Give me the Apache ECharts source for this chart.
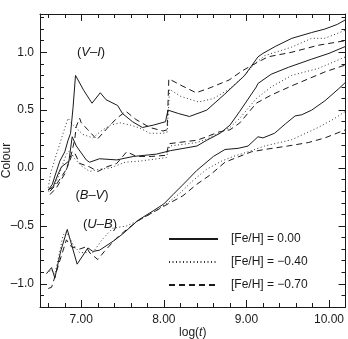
<!DOCTYPE html>
<html>
<head>
<meta charset="utf-8">
<script src="https://cdn.jsdelivr.net/npm/echarts@6/dist/echarts.min.js"></script>
<style>
html,body{margin:0;padding:0;background:#fff;}
#c{width:348px;height:339px;}
</style>
</head>
<body>
<div id="c"></div>
<script>
// ---- tick labels ----
const xMajorTicks = [7, 8, 9, 10];
const xMinorTicks = [6.6, 6.8, 7.2, 7.4, 7.6, 7.8, 8.2, 8.4, 8.6, 8.8, 9.2, 9.4, 9.6, 9.8];
const yMajorTicks = [-1, -0.5, 0, 0.5, 1];
const yMinorTicks = [-1.1, -0.9, -0.8, -0.7, -0.6, -0.4, -0.3, -0.2, -0.1, 0.1, 0.2, 0.3, 0.4, 0.6, 0.7, 0.8, 0.9, 1.1, 1.2, 1.3];

// ---- metallicity labels ----
const metallicities = ['[Fe/H] = 0.00', '[Fe/H] = \u22120.40', '[Fe/H] = \u22120.70'];

// ---- (V-I) curves : [log(t), colour] ----
const viSolid = [[6.60,-0.19],[6.65,-0.14],[6.68,-0.07],[6.74,0.06],[6.80,0.14],[6.84,0.24],[6.87,0.30],[6.90,0.52],[6.93,0.80],[7.03,0.67],[7.13,0.56],[7.23,0.65],[7.30,0.59],[7.44,0.54],[7.50,0.47],[7.62,0.40],[7.74,0.35],[7.87,0.37],[8.02,0.40],[8.05,0.50],[8.18,0.47],[8.31,0.445],[8.52,0.50],[8.74,0.64],[8.98,0.80],[9.14,0.96],[9.20,0.99],[9.35,1.05],[9.55,1.12],[9.79,1.17],[9.95,1.20],[10.10,1.24],[10.20,1.28]];
const viDot = [[6.60,-0.17],[6.63,-0.04],[6.70,0.12],[6.78,0.30],[6.84,0.43],[6.90,0.37],[7.02,0.29],[7.14,0.26],[7.24,0.32],[7.35,0.37],[7.47,0.39],[7.60,0.37],[7.71,0.345],[7.83,0.30],[7.99,0.30],[8.04,0.31],[8.07,0.68],[8.20,0.62],[8.42,0.57],[8.60,0.60],[8.79,0.68],[8.95,0.78],[9.10,0.90],[9.22,0.97],[9.40,1.01],[9.55,1.045],[9.79,1.12],[9.95,1.12],[10.20,1.19]];
const viDash = [[6.62,-0.20],[6.70,-0.14],[6.82,-0.01],[6.88,0.12],[6.92,0.245],[6.94,0.36],[6.98,0.43],[7.00,0.39],[7.08,0.33],[7.19,0.245],[7.31,0.34],[7.43,0.43],[7.54,0.49],[7.66,0.42],[7.83,0.35],[7.99,0.32],[8.04,0.33],[8.06,0.77],[8.22,0.71],[8.39,0.65],[8.55,0.69],[8.79,0.76],[8.95,0.84],[9.10,0.90],[9.26,0.96],[9.55,1.00],[9.87,1.06],[10.20,1.10]];

// ---- (B-V) curves ----
const bvSolid = [[6.60,-0.19],[6.66,-0.16],[6.72,-0.05],[6.76,0.01],[6.85,0.06],[6.89,0.27],[6.94,0.19],[7.06,0.07],[7.10,0.05],[7.22,0.08],[7.43,0.07],[7.63,0.10],[7.91,0.12],[8.08,0.15],[8.40,0.19],[8.52,0.24],[8.68,0.30],[8.80,0.37],[8.92,0.49],[9.12,0.70],[9.14,0.73],[9.30,0.81],[9.51,0.87],[9.79,0.94],[10.00,0.99],[10.20,1.05]];
const bvDot = [[6.60,-0.20],[6.68,-0.15],[6.74,-0.04],[6.82,0.12],[6.86,0.15],[6.92,0.08],[7.00,0.02],[7.10,-0.03],[7.22,-0.01],[7.35,0.00],[7.53,0.05],[7.71,0.06],[8.03,0.09],[8.07,0.19],[8.40,0.22],[8.52,0.25],[8.66,0.30],[8.80,0.35],[8.92,0.43],[9.12,0.60],[9.30,0.70],[9.55,0.80],[9.87,0.86],[10.20,0.96]];
const bvDash = [[6.62,-0.23],[6.70,-0.17],[6.80,-0.05],[6.88,0.10],[6.92,0.13],[6.98,0.04],[7.10,0.01],[7.20,-0.03],[7.31,0.01],[7.43,0.04],[7.55,0.14],[7.67,0.10],[7.85,0.10],[8.03,0.11],[8.06,0.21],[8.40,0.24],[8.52,0.27],[8.66,0.31],[8.80,0.33],[8.92,0.39],[9.12,0.56],[9.30,0.63],[9.55,0.71],[9.95,0.83],[10.20,0.89]];

// ---- (U-B) curves ----
const ubSolid = [[6.58,-0.91],[6.64,-0.86],[6.68,-0.95],[6.75,-0.72],[6.83,-0.53],[6.95,-0.83],[7.08,-0.69],[7.14,-0.72],[7.22,-0.71],[7.39,-0.63],[7.50,-0.57],[7.69,-0.45],[7.87,-0.37],[8.00,-0.31],[8.11,-0.23],[8.25,-0.13],[8.40,-0.02],[8.60,0.10],[8.74,0.16],[8.90,0.17],[9.02,0.19],[9.14,0.27],[9.20,0.26],[9.34,0.30],[9.47,0.38],[9.59,0.45],[9.67,0.46],[9.79,0.50],[9.95,0.58],[10.11,0.68],[10.20,0.74]];
const ubDot = [[6.58,-0.91],[6.64,-0.88],[6.68,-0.92],[6.78,-0.58],[6.82,-0.55],[6.90,-0.66],[6.98,-0.73],[7.14,-0.73],[7.25,-0.62],[7.38,-0.52],[7.55,-0.50],[7.70,-0.45],[7.90,-0.37],[8.05,-0.30],[8.19,-0.22],[8.35,-0.11],[8.52,-0.01],[8.70,0.06],[8.84,0.10],[9.02,0.14],[9.22,0.19],[9.55,0.245],[9.87,0.35],[10.05,0.42],[10.20,0.49]];
const ubDash = [[6.60,-1.04],[6.64,-1.03],[6.68,-0.94],[6.74,-0.80],[6.82,-0.62],[6.88,-0.68],[6.98,-0.70],[7.06,-0.68],[7.10,-0.73],[7.20,-0.79],[7.28,-0.72],[7.42,-0.61],[7.55,-0.53],[7.70,-0.45],[7.90,-0.37],[8.05,-0.31],[8.23,-0.24],[8.40,-0.14],[8.56,-0.06],[8.74,0.05],[8.88,0.09],[9.06,0.14],[9.22,0.16],[9.50,0.19],[9.75,0.22],[9.95,0.26],[10.20,0.33]];

const FONT = '"Liberation Sans", Arial, Helvetica, sans-serif';
const INK = '#1a1a1a';
const dashTypes = ['solid', [1, 2.5], [6, 4]];
const lineColors = [INK, '#333', INK];

function mk(data, k) {
  return {
    type: 'line', name: metallicities[k], data: data,
    xAxisIndex: 0, yAxisIndex: 0,
    symbol: 'none', showSymbol: false, smooth: false, silent: true, animation: false,
    lineStyle: { color: lineColors[k], width: 1, type: dashTypes[k] },
    itemStyle: { color: lineColors[k] }
  };
}

const xMin = 6.5, xMax = 10.2, yMin = -1.2, yMax = 1.33;

function xAx(pos, ticks, len, main) {
  return {
    type: 'value', position: pos, min: xMin, max: xMax,
    splitLine: { show: false },
    axisLine: { show: main, onZero: false, lineStyle: { color: INK, width: 1 } },
    axisTick: { show: true, inside: true, length: len, customValues: ticks, lineStyle: { color: INK, width: 1 } },
    axisLabel: (main && pos === 'bottom') ? {
      show: true, customValues: xMajorTicks, margin: 7,
      formatter: v => v.toFixed(2), color: INK, fontSize: 12, fontFamily: FONT
    } : { show: false }
  };
}
function yAx(pos, ticks, len, main) {
  return {
    type: 'value', position: pos, min: yMin, max: yMax,
    splitLine: { show: false },
    axisLine: { show: main, onZero: false, lineStyle: { color: INK, width: 1 } },
    axisTick: { show: true, inside: true, length: len, customValues: ticks, lineStyle: { color: INK, width: 1 } },
    axisLabel: (main && pos === 'left') ? {
      show: true, customValues: yMajorTicks, margin: 6,
      formatter: v => v.toFixed(1).replace('-', '\u2013'), color: INK, fontSize: 12, fontFamily: FONT
    } : { show: false }
  };
}

const xAxes = [xAx('bottom', xMajorTicks, 7, true), xAx('bottom', xMinorTicks, 4, false), xAx('top', xMajorTicks, 7, true), xAx('top', xMinorTicks, 4, false)];
xAxes[0].name = 'log({i|t})';
xAxes[0].nameLocation = 'middle';
xAxes[0].nameGap = 20;
xAxes[0].nameMoveOverlap = false;
xAxes[0].nameTextStyle = { color: INK, fontSize: 12, fontFamily: FONT, rich: { i: { fontStyle: 'italic', fontSize: 12, fontFamily: FONT, color: INK } } };

const yAxes = [yAx('left', yMajorTicks, 7, true), yAx('left', yMinorTicks, 4, false), yAx('right', yMajorTicks, 7, true), yAx('right', yMinorTicks, 4, false)];
yAxes[0].name = 'Colour';
yAxes[0].nameLocation = 'middle';
yAxes[0].nameGap = 27;
yAxes[0].nameMoveOverlap = false;
yAxes[0].nameTextStyle = { color: INK, fontSize: 12, fontFamily: FONT };

const italic = { i: { fontStyle: 'italic', fontSize: 13, fontFamily: FONT, fill: INK } };
function ann(txt, x, y) {
  return {
    type: 'text', x: x, y: y, silent: true,
    style: { text: txt, fill: INK, font: '13px ' + FONT, align: 'center', verticalAlign: 'middle', rich: italic }
  };
}

const chart = echarts.init(document.getElementById('c'), null, { renderer: 'canvas' });
chart.setOption({
  animation: false,
  backgroundColor: '#fff',
  grid: { left: 40, right: 2.5, top: 14, bottom: 32, containLabel: false, outerBoundsMode: 'none' },
  xAxis: xAxes,
  yAxis: yAxes,
  legend: {
    data: metallicities, orient: 'vertical', left: 163, top: 228,
    itemWidth: 49, itemHeight: 14, itemGap: 11,
    itemStyle: { color: 'rgba(0,0,0,0)', borderColor: 'rgba(0,0,0,0)', borderWidth: 0, opacity: 0 },
    textStyle: { color: INK, fontSize: 12, fontFamily: FONT, padding: [0, 0, 0, 8] },
    selectedMode: false
  },
  graphic: [
    ann('({i|V}\u2013{i|I})', 91, 52),
    ann('({i|B}\u2013{i|V})', 92, 195),
    ann('({i|U}\u2013{i|B})', 100, 224)
  ],
  series: [
    mk(viSolid, 0), mk(viDot, 1), mk(viDash, 2),
    mk(bvSolid, 0), mk(bvDot, 1), mk(bvDash, 2),
    mk(ubSolid, 0), mk(ubDot, 1), mk(ubDash, 2)
  ]
});
</script>
</body>
</html>
